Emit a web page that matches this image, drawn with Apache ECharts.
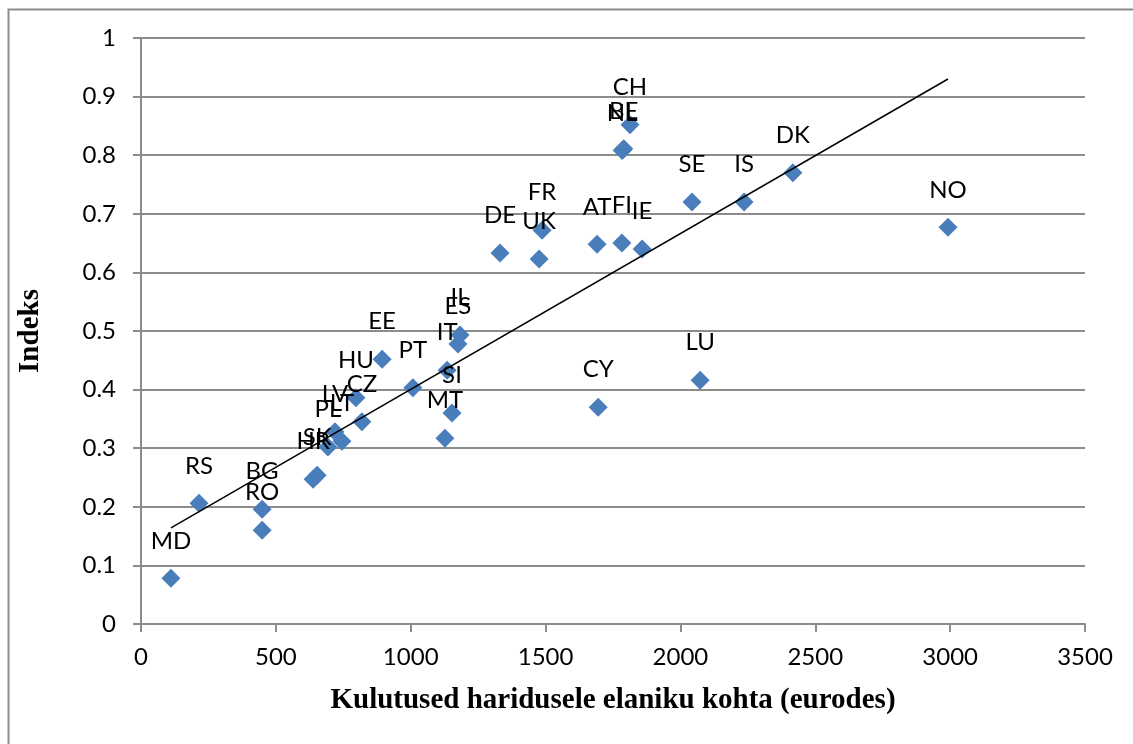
<!DOCTYPE html>
<html>
<head>
<meta charset="utf-8">
<script src="https://cdn.jsdelivr.net/npm/echarts@6/dist/echarts.min.js"></script>
<style>
html,body{margin:0;padding:0;background:#fff;}
#chart{width:1133px;height:744px;}
</style>
</head>
<body>
<div id="chart"></div>
<script>
const countries = ['MD','RS','BG','RO','HR','SK','PL','LT','LV','CZ','HU','EE','PT','MT','SI','IT','ES','IL','CY','LU','DE','UK','FR','AT','FI','IE','NL','BE','CH','SE','IS','DK','NO'];
const spending  = [111, 215, 449, 449, 638, 653, 693, 745, 719, 819, 797, 894, 1008, 1127, 1153, 1135, 1175, 1183, 1695, 2073, 1331, 1476, 1487, 1691, 1783, 1858, 1784, 1790, 1813, 2043, 2236, 2417, 2992];
const indexVal  = [0.078, 0.206, 0.196, 0.160, 0.247, 0.254, 0.302, 0.312, 0.328, 0.345, 0.386, 0.452, 0.403, 0.317, 0.360, 0.433, 0.478, 0.493, 0.370, 0.416, 0.633, 0.623, 0.672, 0.648, 0.650, 0.640, 0.808, 0.811, 0.852, 0.720, 0.720, 0.770, 0.677];
const trendX = [111, 2992];
const trendY = [0.164, 0.930];
const xTicks = [0, 500, 1000, 1500, 2000, 2500, 3000, 3500];
const yTicks = [0, 0.1, 0.2, 0.3, 0.4, 0.5, 0.6, 0.7, 0.8, 0.9, 1];

const pts = countries.map((c, i) => [spending[i], indexVal[i], c]);
const trend = trendX.map((x, i) => [x, trendY[i]]);

const chart = echarts.init(document.getElementById('chart'), null, {renderer: 'canvas'});
const axisFont = {fontFamily: 'Lato', fontSize: 24, color: '#000'};
chart.setOption({
  animation: false,
  backgroundColor: '#fff',
  graphic: [{
    type: 'rect', left: 6, top: 7, silent: true,
    shape: {width: 1200, height: 800},
    style: {fill: 'none', stroke: '#8c8c8c', lineWidth: 2}
  }],
  grid: {left: 141, right: 48, top: 38, bottom: 120, containLabel: false},
  xAxis: {
    type: 'value', min: xTicks[0], max: xTicks[xTicks.length - 1], interval: 500,
    name: 'Kulutused haridusele elaniku kohta (eurodes)',
    nameLocation: 'middle', nameGap: 62,
    nameTextStyle: {fontFamily: 'Liberation Serif', fontWeight: 'bold', fontSize: 29, color: '#000'},
    axisLine: {show: true, lineStyle: {color: '#8c8c8c', width: 2}},
    axisTick: {show: true, length: 8, inside: false, lineStyle: {color: '#8c8c8c', width: 2}},
    axisLabel: Object.assign({margin: 21, formatter: v => String(v)}, axisFont),
    splitLine: {show: false}
  },
  yAxis: {
    type: 'value', min: yTicks[0], max: yTicks[yTicks.length - 1], interval: 0.1,
    name: 'Indeks',
    nameLocation: 'middle', nameGap: 96, nameRotate: 90,
    nameTextStyle: {fontFamily: 'Liberation Serif', fontWeight: 'bold', fontSize: 29, color: '#000'},
    axisLine: {show: true, lineStyle: {color: '#8c8c8c', width: 2}},
    axisTick: {show: true, length: 8, inside: false, lineStyle: {color: '#8c8c8c', width: 2}},
    axisLabel: Object.assign({margin: 25, formatter: v => String(Math.round(v * 10) / 10)}, axisFont),
    splitLine: {show: true, lineStyle: {color: '#8c8c8c', width: 2}}
  },
  series: [{
    type: 'scatter',
    data: pts,
    symbol: 'diamond',
    symbolSize: 19,
    itemStyle: {color: '#4A7EBB', opacity: 1},
    label: {
      show: true, position: 'top', distance: 16,
      formatter: p => p.data[2],
      fontFamily: 'Lato', fontSize: 24, color: '#000'
    },
    z: 2
  }, {
    type: 'line',
    data: trend,
    symbol: 'none',
    lineStyle: {color: '#000', width: 1.5},
    z: 3
  }]
});
</script>
</body>
</html>
